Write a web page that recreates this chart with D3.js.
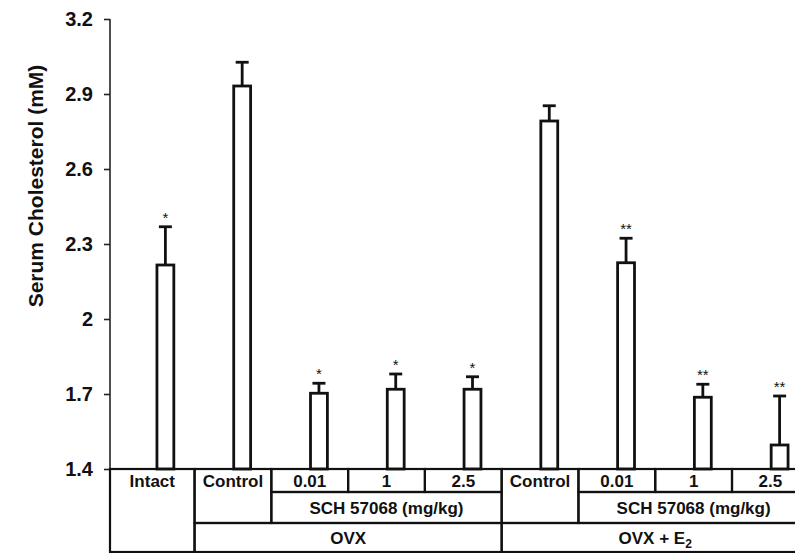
<!DOCTYPE html>
<html>
<head>
<meta charset="utf-8">
<script src="https://cdn.jsdelivr.net/npm/d3@7"></script>
<style>
  body { margin: 0; background: #fff; }
  svg { display: block; font-family: "Liberation Sans", Arial, sans-serif; }
  .axis path, .axis line { stroke: #222; stroke-width: 1.6px; }
  .axis text { font-size: 20px; font-weight: bold; fill: #111; }
  .bar { fill: #fff; stroke: #111; stroke-width: 2.8px; }
  .err { stroke: #111; stroke-width: 2.8px; }
  .cell { font-size: 17px; font-weight: bold; fill: #111; text-anchor: middle; }
  .star { font-size: 15px; fill: #111; text-anchor: middle; }
</style>
</head>
<body>
<script>
// bar categories, left to right
var categories = ["Intact", "OVX Control", "OVX 0.01", "OVX 1", "OVX 2.5",
                  "E2 Control", "E2 0.01", "E2 1", "E2 2.5"];
// serum cholesterol (mM), mean and upper error
var means = [2.216, 2.932, 1.703, 1.719, 1.719, 2.792, 2.225, 1.687, 1.496];
var errors = [0.153, 0.095, 0.040, 0.061, 0.050, 0.061, 0.098, 0.052, 0.196];
var stars = ["*", "", "*", "*", "*", "", "**", "**", "**"];
var yTicks = [1.4, 1.7, 2.0, 2.3, 2.6, 2.9, 3.2];

// table under the bars: label, first and last category index, row range
var cellsRow1 = [
    { label: "Intact", from: 0, to: 0, r0: 0, r1: 3 },
    { label: "Control", from: 1, to: 1, r0: 0, r1: 2 },
    { label: "0.01", from: 2, to: 2, r0: 0, r1: 1 },
    { label: "1", from: 3, to: 3, r0: 0, r1: 1 },
    { label: "2.5", from: 4, to: 4, r0: 0, r1: 1 },
    { label: "Control", from: 5, to: 5, r0: 0, r1: 2 },
    { label: "0.01", from: 6, to: 6, r0: 0, r1: 1 },
    { label: "1", from: 7, to: 7, r0: 0, r1: 1 },
    { label: "2.5", from: 8, to: 8, r0: 0, r1: 1 }
];
var cellsRow2 = [
    { label: "SCH 57068 (mg/kg)", from: 2, to: 4, r0: 1, r1: 2 },
    { label: "SCH 57068 (mg/kg)", from: 6, to: 8, r0: 1, r1: 2 }
];
var cellsRow3 = [
    { label: "OVX", from: 1, to: 4, r0: 2, r1: 3 },
    { label: "OVX + E", sub: "2", from: 5, to: 8, r0: 2, r1: 3 }
];

var width = 795, height = 553;
var axisX = 110;

var svg = d3.select("body").append("svg")
    .attr("width", width)
    .attr("height", height);

var y = d3.scaleLinear().domain([1.4, 3.2]).range([469, 19]);

var x = d3.scaleBand()
    .domain(categories)
    .range([127, 818])
    .paddingInner(0.78)
    .paddingOuter(0.39);

var step = x.step(), bw = x.bandwidth();
// centre of column i, also past the last category
function center(i) { return x(categories[0]) + bw / 2 + i * step; }
function edge(i) {
    if (i === 0) return axisX;
    return center(i) - 0.62 * step;
}
var rowY = [y(1.4), y(1.4) + 23, y(1.4) + 54, y(1.4) + 83];

// y axis
var axis = svg.append("g")
    .attr("class", "axis")
    .attr("transform", "translate(" + axisX + ",0)")
    .call(d3.axisLeft(y)
        .tickValues(yTicks)
        .tickFormat(function (d) { return d3.format("")(+d.toFixed(1)); })
        .tickSize(6)
        .tickSizeOuter(0)
        .tickPadding(11));
axis.select(".domain").remove();
axis.append("line")
    .attr("x1", 0).attr("x2", 0)
    .attr("y1", y(3.2)).attr("y2", rowY[3]);

svg.append("text")
    .attr("transform", "translate(43," + 186 + ") rotate(-90)")
    .attr("text-anchor", "middle")
    .style("font-size", "21px")
    .style("font-weight", "bold")
    .style("fill", "#111")
    .text("Serum Cholesterol (mM)");

// bars
var data = categories.map(function (c, i) {
    return { cat: c, mean: means[i], err: errors[i], star: stars[i] };
});

var g = svg.append("g");

g.selectAll(".errLine")
    .data(data)
    .enter().append("line")
    .attr("class", "err errLine")
    .attr("x1", function (d) { return x(d.cat) + bw / 2; })
    .attr("x2", function (d) { return x(d.cat) + bw / 2; })
    .attr("y1", function (d) { return y(d.mean); })
    .attr("y2", function (d) { return y(d.mean + d.err); });

g.selectAll(".cap")
    .data(data)
    .enter().append("line")
    .attr("class", "err cap")
    .attr("x1", function (d) { return x(d.cat) + bw / 2 - 6.5; })
    .attr("x2", function (d) { return x(d.cat) + bw / 2 + 6.5; })
    .attr("y1", function (d) { return y(d.mean + d.err); })
    .attr("y2", function (d) { return y(d.mean + d.err); });

g.selectAll(".bar")
    .data(data)
    .enter().append("rect")
    .attr("class", "bar")
    .attr("x", function (d) { return x(d.cat); })
    .attr("width", bw)
    .attr("y", function (d) { return y(d.mean); })
    .attr("height", function (d) { return y(1.4) - y(d.mean); });

g.selectAll(".star")
    .data(data.filter(function (d) { return d.star; }))
    .enter().append("text")
    .attr("class", "star")
    .attr("x", function (d) { return x(d.cat) + bw / 2; })
    .attr("y", function (d) { return y(d.mean + d.err) - 4; })
    .text(function (d) { return d.star; });

// table
var cells = cellsRow1.concat(cellsRow2, cellsRow3);
var grid = svg.append("g");

grid.selectAll("rect")
    .data(cells)
    .enter().append("rect")
    .attr("x", function (d) { return edge(d.from); })
    .attr("y", function (d) { return rowY[d.r0]; })
    .attr("width", function (d) { return edge(d.to + 1) - edge(d.from); })
    .attr("height", function (d) { return rowY[d.r1] - rowY[d.r0]; })
    .style("fill", "none")
    .style("stroke", "#111")
    .style("stroke-width", "2.2px");

var labels = grid.selectAll(".cell")
    .data(cells)
    .enter().append("text")
    .attr("class", "cell")
    .attr("x", function (d) { return (edge(d.from) + edge(d.to + 1)) / 2; })
    .attr("y", function (d) { return rowY[d.r0] + (rowY[d.r0 + 1] - rowY[d.r0]) / 2; })
    .attr("dy", "0.36em")
    .text(function (d) { return d.label; });

labels.filter(function (d) { return d.sub; })
    .append("tspan")
    .attr("dy", "4")
    .style("font-size", "12px")
    .text(function (d) { return d.sub; });
</script>
</body>
</html>
